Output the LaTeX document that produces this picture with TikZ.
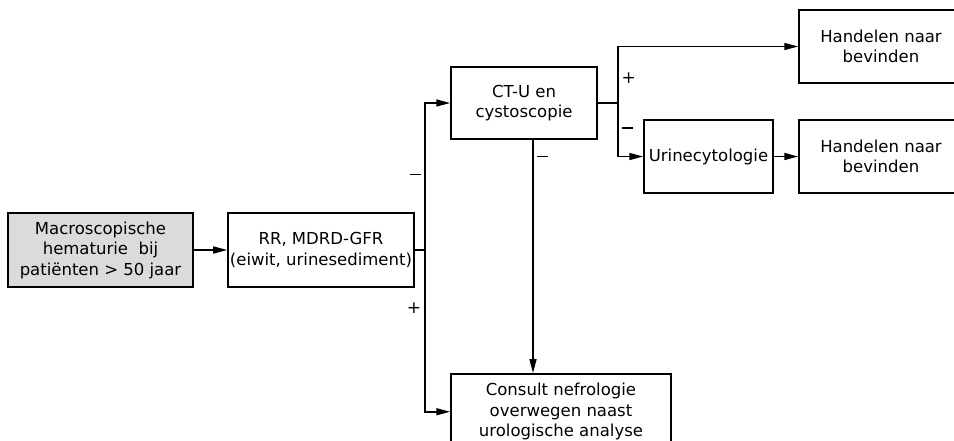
\documentclass[tikz,border=0pt]{standalone}
\usepackage{fontspec}
\setmainfont{DejaVu Sans}
\usepackage{xcolor}
\usepackage{tikz}
\usetikzlibrary{arrows.meta,positioning}

\newcommand{\minus}{\rule[4pt]{11pt}{1.8pt}}

\begin{document}
\begin{tikzpicture}[x=1pt,y=-1pt,>={Triangle[length=14pt,width=7pt]},line width=1.5pt,on grid,
        box/.style={draw,align=center,inner sep=2pt,font=\fontsize{16.5}{20.5}\selectfont},
        sign/.style={font=\fontsize{17}{17}\selectfont,inner sep=3pt}]
        \useasboundingbox (0,0) rectangle (954,440);
        \node[box,fill=black!14,minimum width=185pt,minimum height=74pt] (1) at (100.5,250) {Macroscopische\\hematurie\ \ bij\\pati\"enten > 50 jaar};
        \node[box,minimum width=184pt,minimum height=74pt] (2) [right=220.5pt of 1] {RR, MDRD-GFR\\(eiwit, urinesediment)};
        \node[box,minimum width=146pt,minimum height=72pt] (3) [above right=147pt and 203pt of 2] {CT-U en\\cystoscopie};
        \node[box,minimum width=220pt,minimum height=76pt,anchor=north] (4) at (561,373) {Consult nefrologie\\overwegen naast\\urologische analyse};
        \node[box,minimum width=129pt,minimum height=73pt] (5) [below right=53.5pt and 184.5pt of 3] {Urinecytologie};
        \node[box,minimum width=164pt,minimum height=73pt] (6) [above right=110pt and 172.5pt of 5] {Handelen naar\\bevinden};
        \node[box,minimum width=164pt,minimum height=73pt] (7) [right=172.5pt of 5] {Handelen naar\\bevinden};
        \coordinate (j1) at ([xshift=10pt]2.east);
        \coordinate (j2) at ([xshift=20pt]3.east);
        \draw[->] (1) -- (2);
        \draw (2.east) -- (j1);
        \draw[->] (j1) |- node[sign,pos=0.25,left] {\minus} (3);
        \draw[->] (j1) |- node[sign,pos=0.18,left] {+} (4);
        \draw (3.east) -- (j2);
        \draw[->] (j2) |- node[sign,pos=0.22,right] {+} (6);
        \draw[->] (j2) |- node[sign,pos=0.25,right] {\minus} (5);
        \draw[->] ([xshift=9pt]3.south) -- node[sign,pos=0.08,right] {\minus} ([xshift=9pt]3.south |- 4.north);
        \draw[->] (5) -- (7);
\end{tikzpicture}
\end{document}
